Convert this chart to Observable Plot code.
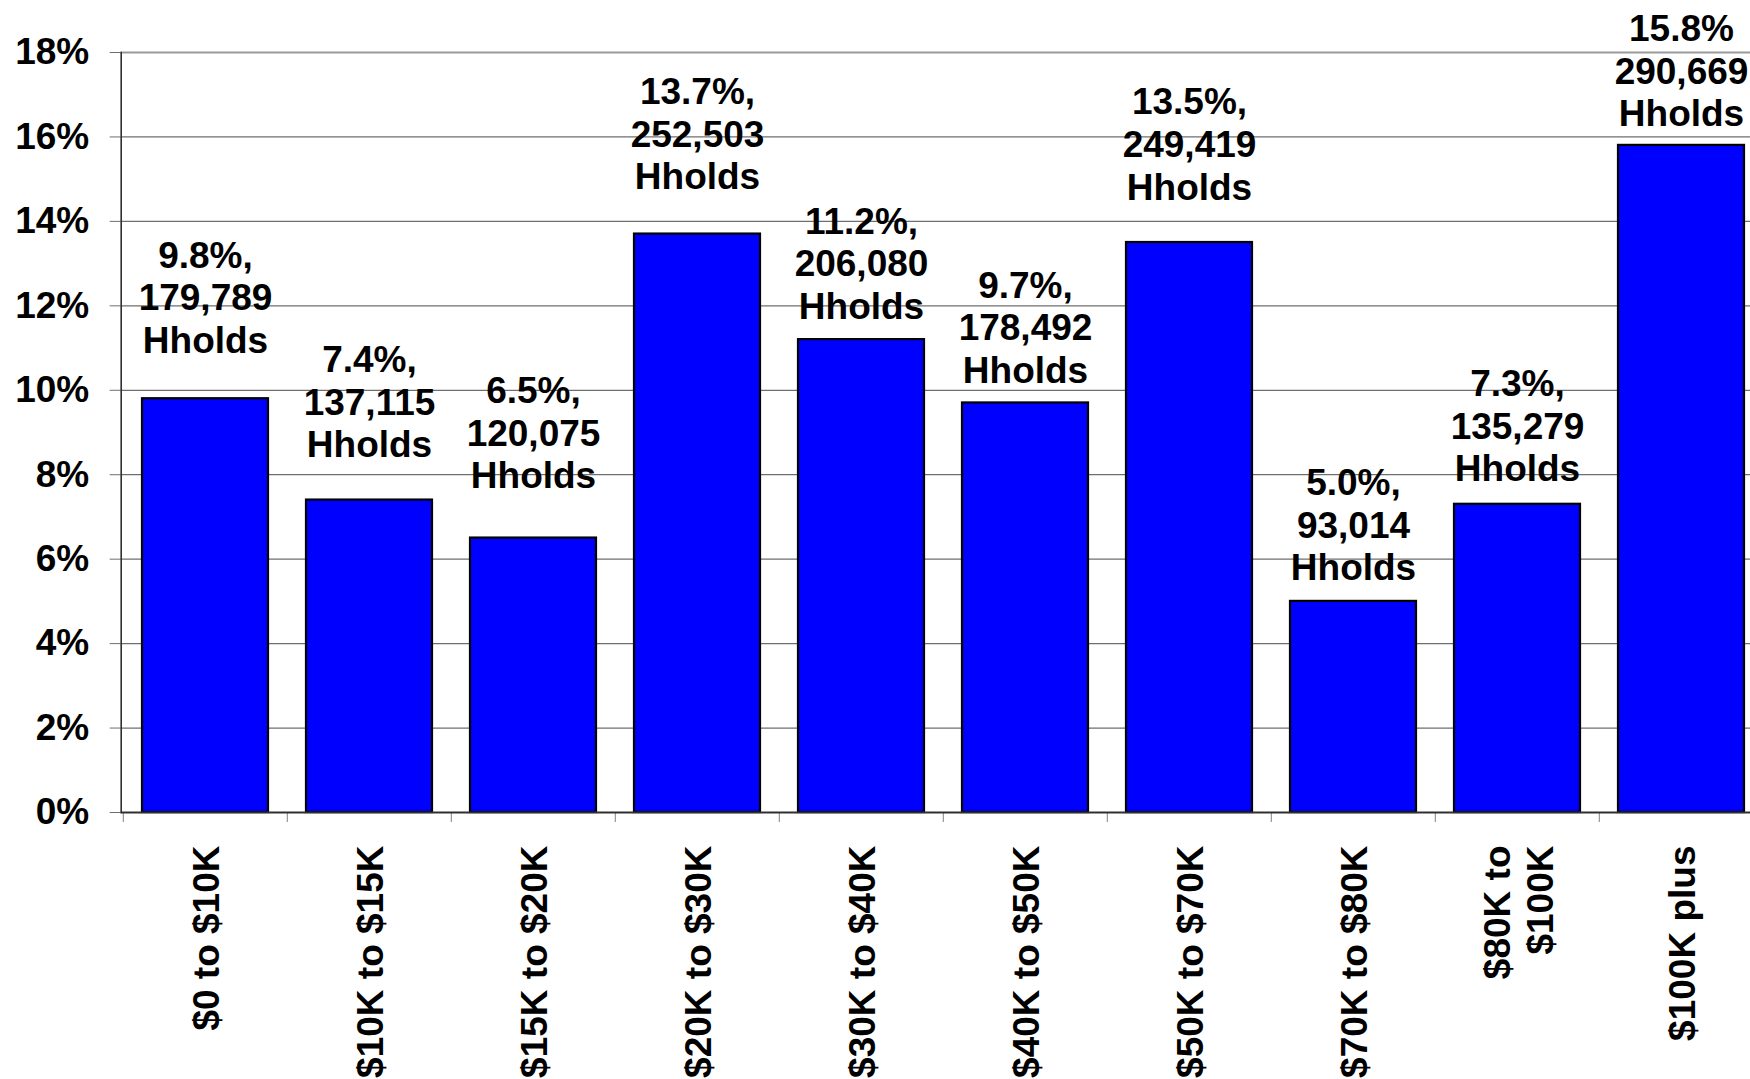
<!DOCTYPE html>
<html>
<head>
<meta charset="utf-8">
<script src="https://cdn.jsdelivr.net/npm/d3@7"></script>
<script src="https://cdn.jsdelivr.net/npm/@observablehq/plot@0.6"></script>
<style>
  html, body { margin: 0; padding: 0; background: white; overflow: hidden; }
  #chart svg { display: block; max-width: none; }
</style>
</head>
<body>
<div id="chart"></div>
<script>
// ---- data ----
const categories = ["$0 to $10K", "$10K to $15K", "$15K to $20K", "$20K to $30K", "$30K to $40K",
  "$40K to $50K", "$50K to $70K", "$70K to $80K", "$80K to\n$100K", "$100K plus"];
const shares = [9.8, 7.4, 6.5, 13.7, 11.2, 9.7, 13.5, 5.0, 7.3, 15.8];
const households = [179789, 137115, 120075, 252503, 206080, 178492, 249419, 93014, 135279, 290669];
const labelTexts = [
  "9.8%,\n179,789\nHholds", "7.4%,\n137,115\nHholds", "6.5%,\n120,075\nHholds",
  "13.7%,\n252,503\nHholds", "11.2%,\n206,080\nHholds", "9.7%,\n178,492\nHholds",
  "13.5%,\n249,419\nHholds", "5.0%,\n93,014\nHholds", "7.3%,\n135,279\nHholds",
  "15.8%\n290,669\nHholds"];
const yTicks = [0, 2, 4, 6, 8, 10, 12, 14, 16, 18];

// ---- layout (pixels) ----
const W = 1750, H = 1079;
const plotLeft = 120.7, plotRightEnd = 1765, plotTop = 52, plotBottom = 812;
const labelGap = [46, 43, 50, 45, 21, 20, 43, 21, 23, 19];
const bandStep = (plotRightEnd - plotLeft) / 10;
const font = "'Liberation Sans', Arial, Helvetica, sans-serif";
const fs = 37;

const rows = categories.map((c, i) => ({
  cat: c, share: shares[i], hh: households[i], label: labelTexts[i], gap: labelGap[i]
}));

const chart = Plot.plot({
  width: W,
  height: H,
  marginTop: plotTop,
  marginBottom: H - plotBottom,
  marginLeft: plotLeft,
  marginRight: 0,
  style: {fontFamily: font, background: "white", color: "black"},
  x: {domain: categories, range: [plotLeft, plotRightEnd], paddingInner: 0.23, paddingOuter: 0.115, axis: null},
  y: {domain: [0, 18], nice: false, axis: null},
  marks: [
    Plot.gridY(yTicks, {stroke: "#6f6f6f", strokeOpacity: 1, strokeWidth: 1.2}),
    Plot.ruleY([18], {stroke: "#9a9a9a", strokeWidth: 2.2}),
    Plot.axisY({ticks: yTicks, tickFormat: d => d + "%", tickSize: 11, tickPadding: 21,
      fontSize: fs, fontWeight: "bold", stroke: "#6f6f6f", fill: "black", label: null}),
    Plot.axisX({ticks: categories, tickSize: 10, tickFormat: () => "", dx: -bandStep / 2,
      stroke: "#808080", label: null}),
    Plot.barY(rows, {x: "cat", y: "share", fill: "#0000ff", stroke: "black", strokeWidth: 2.2}),
    Plot.ruleY([0], {stroke: "#303030", strokeWidth: 2}),
    Plot.frame({anchor: "left", stroke: "#303030", strokeWidth: 1.6}),
    ...rows.map(r => Plot.text([r], {x: "cat", y: "share", text: "label", dy: -r.gap,
      lineAnchor: "bottom", lineHeight: 1.15, fontSize: fs, fontWeight: "bold",
      fill: "black", ariaLabel: "datalabels"})),
    Plot.text(rows, {x: "cat", y: () => 0, text: "cat", rotate: -90, textAnchor: "end",
      lineAnchor: "middle", lineHeight: 1.16, dy: 33, fontSize: fs, fontWeight: "bold", fill: "black"})
  ]
});

document.getElementById("chart").appendChild(chart);

// white boxes behind data labels (they interrupt the gridlines, as in the original)
d3.select(chart).selectAll('g[aria-label="datalabels"] text').each(function () {
  const b = this.getBBox();
  const padX = 8, padY = 3;
  d3.select(this.parentNode).insert("rect", () => this)
    .attr("x", b.x - padX).attr("y", b.y - padY)
    .attr("width", b.width + 2 * padX).attr("height", b.height + 2 * padY)
    .attr("fill", "white")
    .attr("transform", this.getAttribute("transform"));
});
</script>
</body>
</html>
